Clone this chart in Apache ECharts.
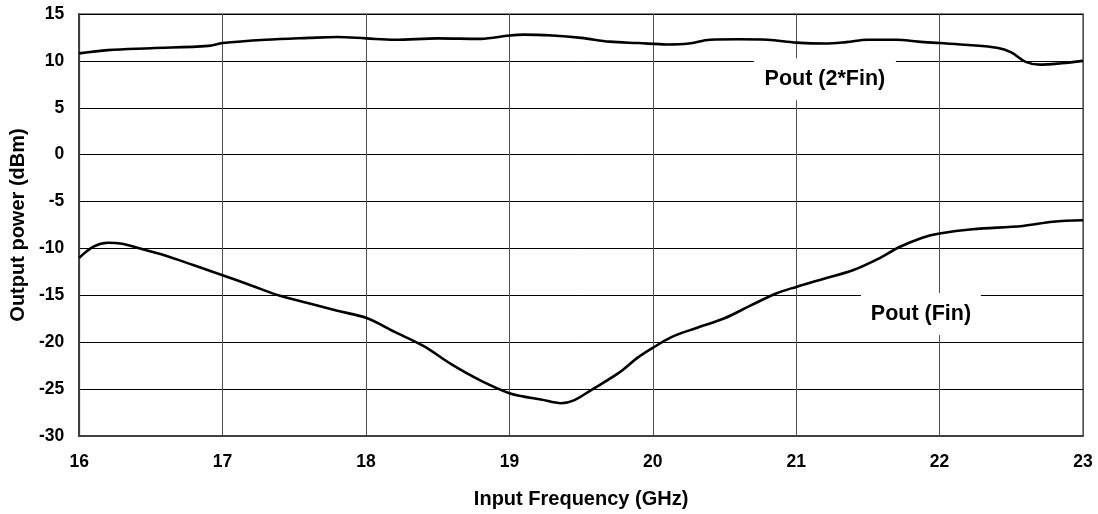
<!DOCTYPE html>
<html>
<head>
<meta charset="utf-8">
<script src="https://cdn.jsdelivr.net/npm/echarts@6/dist/echarts.min.js"></script>
<style>html,body{margin:0;padding:0;background:#fff}#c{width:1098px;height:514px}</style>
</head>
<body>
<div id="c"></div>
<script>
// Frequency (GHz) / power (dBm) pairs
const freq2Fin = [16.0,16.2,16.5,16.9,17.0,17.3,17.6,17.8,18.0,18.2,18.5,18.8,19.0,19.1,19.3,19.5,19.7,19.9,20.1,20.25,20.4,20.6,20.8,21.0,21.2,21.35,21.5,21.7,21.85,22.0,22.2,22.4,22.5,22.6,22.7,22.85,23.0];
const pout2Fin = [10.8,11.15,11.35,11.6,11.9,12.25,12.45,12.55,12.4,12.25,12.4,12.35,12.7,12.8,12.7,12.45,12.05,11.9,11.75,11.85,12.25,12.3,12.25,11.95,11.85,12.0,12.25,12.25,12.05,11.9,11.7,11.4,10.9,9.9,9.6,9.75,10.0];
const freqFin = [16.0,16.1,16.2,16.3,16.4,16.6,16.8,17.0,17.2,17.4,17.6,17.8,18.0,18.2,18.4,18.6,18.8,19.0,19.1,19.22,19.36,19.45,19.57,19.76,19.89,20.0,20.13,20.3,20.5,20.68,20.86,21.0,21.2,21.4,21.58,21.72,21.88,22.0,22.23,22.58,22.79,23.0];
const poutFin = [-11.0,-9.8,-9.4,-9.5,-9.9,-10.75,-11.8,-12.85,-13.95,-15.05,-15.85,-16.65,-17.4,-18.9,-20.4,-22.4,-24.1,-25.45,-25.8,-26.1,-26.5,-26.2,-25.1,-23.3,-21.7,-20.6,-19.45,-18.5,-17.45,-16.1,-14.8,-14.1,-13.2,-12.3,-11.05,-9.85,-8.85,-8.4,-7.95,-7.6,-7.15,-7.0];
const xAxisName = 'Input Frequency (GHz)';
const yAxisName = 'Output power (dBm)';
const label2Fin = 'Pout (2*Fin)';
const labelFin = 'Pout (Fin)';
const label2FinPos = [21.2, 8.05];
const labelFinPos = [21.87, -17.0];

const font = 'Arial, "Liberation Sans", sans-serif';
const zip = (a, b) => a.map((v, i) => [v, b[i]]);

const chart = echarts.init(document.getElementById('c'));
chart.setOption({
  animation: false,
  grid: { left: 78, right: 15, top: 14, bottom: 78, show: true, borderColor: '#8c8c8c', borderWidth: 2, backgroundColor: '#fff' },
  xAxis: {
    type: 'value', min: 16, max: 23, interval: 1,
    name: xAxisName, nameLocation: 'middle', nameGap: 53,
    nameTextStyle: { fontFamily: font, fontWeight: 'bold', fontSize: 20, color: '#000' },
    axisLine: { show: true, onZero: false, lineStyle: { color: '#404040', width: 2 } },
    axisTick: { show: false },
    axisLabel: { margin: 17, fontFamily: font, fontWeight: 'bold', fontSize: 17.5, color: '#000' },
    splitLine: { show: true, lineStyle: { color: '#505050', width: 1 } }
  },
  yAxis: {
    type: 'value', min: -30, max: 15, interval: 5,
    name: yAxisName, nameLocation: 'middle', nameGap: 50,
    nameTextStyle: { fontFamily: font, fontWeight: 'bold', fontSize: 20, color: '#000' },
    axisLine: { show: true, onZero: false, lineStyle: { color: '#404040', width: 2 } },
    axisTick: { show: false },
    axisLabel: { margin: 15, fontFamily: font, fontWeight: 'bold', fontSize: 17.5, color: '#000' },
    splitLine: { show: true, lineStyle: { color: '#000', width: 1 } }
  },
  series: [
    {
      name: label2Fin, type: 'line', data: zip(freq2Fin, pout2Fin), smooth: 0.35, showSymbol: false,
      lineStyle: { color: '#000', width: 2.6 },
      markPoint: {
        symbol: 'rect', symbolSize: [142, 42], itemStyle: { color: '#fff' },
        label: { show: true, position: 'inside', formatter: label2Fin, fontFamily: font, fontWeight: 'bold', fontSize: 21.5, color: '#000' },
        data: [{ coord: label2FinPos }]
      }
    },
    {
      name: labelFin, type: 'line', data: zip(freqFin, poutFin), smooth: 0.35, showSymbol: false,
      lineStyle: { color: '#000', width: 2.6 },
      markPoint: {
        symbol: 'rect', symbolSize: [120, 42], itemStyle: { color: '#fff' },
        label: { show: true, position: 'inside', formatter: labelFin, fontFamily: font, fontWeight: 'bold', fontSize: 21.5, color: '#000' },
        data: [{ coord: labelFinPos }]
      }
    }
  ]
});
</script>
</body>
</html>
